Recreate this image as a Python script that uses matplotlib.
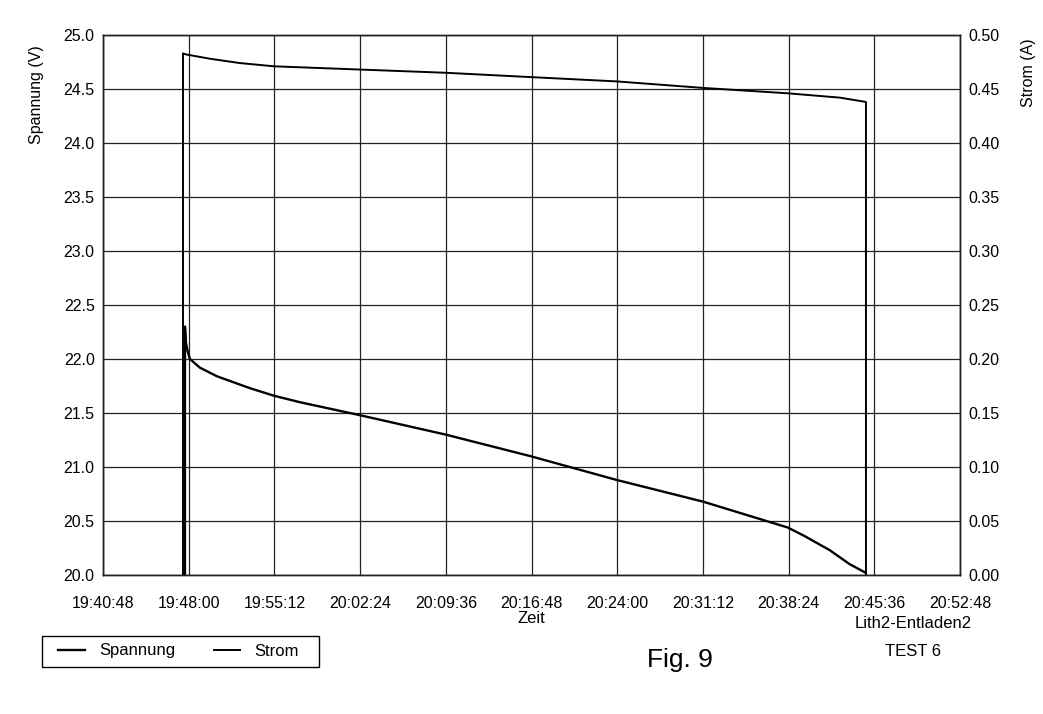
import matplotlib
matplotlib.use("Agg")
import matplotlib.pyplot as plt
from matplotlib.patches import Rectangle
import pandas as pd

plt.rcParams['font.family'] = ['Liberation Sans', 'DejaVu Sans']

# time axis
t_start = "19:40:48"
tick_labels = ["19:40:48", "19:48:00", "19:55:12", "20:02:24", "20:09:36", "20:16:48",
               "20:24:00", "20:31:12", "20:38:24", "20:45:36", "20:52:48"]

# Spannung (V)
volt_time = ["19:47:41", "19:47:41", "19:47:46", "19:47:56", "19:48:06", "19:48:56",
             "19:50:22", "19:53:08", "19:55:09", "19:57:20", "20:02:22", "20:09:35",
             "20:16:43", "20:23:57", "20:31:11", "20:38:19", "20:39:45", "20:41:51",
             "20:43:32", "20:44:53"]
volt_vals = [20.00, 22.30, 22.15, 22.06, 22.00, 21.92,
             21.84, 21.73, 21.66, 21.60, 21.48, 21.30,
             21.10, 20.88, 20.68, 20.44, 20.36, 20.23,
             20.10, 20.02]

# Strom (A)
amp_time = ["19:47:31", "19:47:31", "19:47:46", "19:49:47", "19:52:18", "19:55:10",
            "20:02:23", "20:09:37", "20:16:45", "20:23:59", "20:31:12", "20:38:20",
            "20:42:42", "20:44:54", "20:44:54"]
amp_vals = [0.000, 0.483, 0.482, 0.478, 0.474, 0.471,
            0.468, 0.465, 0.461, 0.457, 0.451, 0.446,
            0.442, 0.438, 0.000]


def secs(times):
    return (pd.to_timedelta(times) - pd.to_timedelta(t_start)).total_seconds()


x_ticks = secs(tick_labels)

fig = plt.figure(figsize=(10.43, 7.14), dpi=100)
ax = fig.add_axes([0.0988, 0.1947, 0.8216, 0.7563])
ax2 = ax.twinx()

l1, = ax.plot(secs(volt_time), volt_vals, color='black', lw=1.7, label='Spannung')
l2, = ax2.plot(secs(amp_time), amp_vals, color='black', lw=1.4, label='Strom')

ax.set_xlim(x_ticks[0], x_ticks[-1])
ax.set_ylim(20.0, 25.0)
ax2.set_ylim(0.0, 0.5)
ax.set_xticks(x_ticks)
ax.set_xticklabels(tick_labels)
ax.set_yticks([20 + 0.5 * i for i in range(11)])
ax.set_yticklabels([f"{20 + 0.5 * i:.1f}" for i in range(11)])
ax2.set_yticks([0.05 * i for i in range(11)])
ax2.set_yticklabels([f"{0.05 * i:.2f}" for i in range(11)])

ax.grid(True, color='#222222', lw=0.9)
ax.set_axisbelow(True)
for a in (ax, ax2):
    a.tick_params(length=0, labelsize=11.5, pad=6)
    for s in a.spines.values():
        s.set_color('#222222')
        s.set_linewidth(1.0)
ax.tick_params(axis='x', pad=15)

ax.set_ylabel("Spannung (V)", fontsize=11.5)
ax.yaxis.set_label_coords(-0.069, 0.89)
ax2.set_ylabel("Strom (A)", fontsize=11.5)
ax2.yaxis.set_label_coords(1.071, 0.93)
ax.set_xlabel("Zeit", fontsize=12, labelpad=0)

# legend with a hand-drawn box (wider side padding than matplotlib's)
fig.legend(handles=[l1, l2], labels=['Spannung', 'Strom'], loc='center left',
           bbox_to_anchor=(50 / 1043, 1 - 651 / 714), ncol=2, frameon=False,
           fontsize=12, handlelength=1.6, columnspacing=2.3, borderpad=0,
           handletextpad=0.85)
fig.patches.append(Rectangle((42 / 1043, 1 - 667 / 714), 277 / 1043, 31 / 714,
                             transform=fig.transFigure, fill=False,
                             edgecolor='black', lw=1.0))

fig.text(680 / 1043, 1 - 660 / 714, "Fig. 9", fontsize=19, ha='center', va='center')
fig.text(913 / 1043, 1 - 623 / 714, "Lith2-Entladen2", fontsize=12, ha='center', va='center')
fig.text(913 / 1043, 1 - 651 / 714, "TEST 6", fontsize=12, ha='center', va='center')

fig.savefig("out.png", dpi=100)
